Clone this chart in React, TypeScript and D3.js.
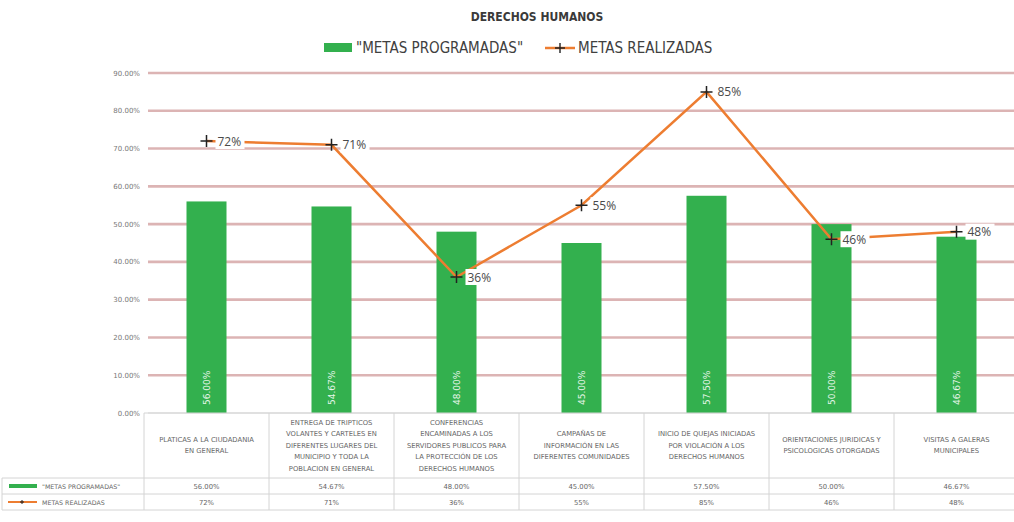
import React, { useEffect, useRef } from "react";
import * as d3 from "d3";

const categories = [
  ["PLATICAS A LA CIUDADANIA", "EN GENERAL"],
  ["ENTREGA DE TRIPTICOS", "VOLANTES Y CARTELES EN", "DIFERENTES LUGARES DEL", "MUNICIPIO Y TODA LA", "POBLACION EN GENERAL"],
  ["CONFERENCIAS", "ENCAMINADAS A LOS", "SERVIDORES PUBLICOS PARA", "LA PROTECCIÓN DE LOS", "DERECHOS HUMANOS"],
  ["CAMPAÑAS DE", "INFORMACIÓN EN LAS", "DIFERENTES COMUNIDADES"],
  ["INICIO DE QUEJAS INICIADAS", "POR VIOLACIÓN A LOS", "DERECHOS HUMANOS"],
  ["ORIENTACIONES JURIDICAS Y", "PSICOLOGICAS OTORGADAS"],
  ["VISITAS A GALERAS", "MUNICIPALES"],
];
const programadas = [56.0, 54.67, 48.0, 45.0, 57.5, 50.0, 46.67];
const realizadas = [72, 71, 36, 55, 85, 46, 48];
const yTicks = [0, 10, 20, 30, 40, 50, 60, 70, 80, 90];

const W = 1014;
const H = 522;
const condensed = "'Liberation Sans Narrow', 'DejaVu Sans Condensed', Arial, sans-serif";
const small = "'DejaVu Sans', Verdana, sans-serif";

const App = () => {
  const svgRef = useRef<SVGSVGElement>(null);

  useEffect(() => {
    const svg = d3.select(svgRef.current);
    svg.selectAll("*").remove();

    const idx = categories.map((_, i) => i);
    const x = d3.scaleBand<number>().domain(idx).range([144, 1019]);
    const y = d3.scaleLinear().domain([0, 90]).range([413, 73]);
    const barW = 40;

    svg.append("rect").attr("width", W).attr("height", H).attr("fill", "#fff");

    // title
    svg
      .append("text")
      .attr("x", 537)
      .attr("y", 21)
      .attr("text-anchor", "middle")
      .attr("font-family", condensed)
      .attr("font-weight", "bold")
      .attr("font-size", 12)
      .attr("fill", "#3a3a3a")
      .text("DERECHOS HUMANOS");

    // legend
    const lg = svg.append("g").attr("font-family", condensed).attr("font-size", 15).attr("fill", "#404040");
    lg.append("rect").attr("x", 324).attr("y", 43).attr("width", 28).attr("height", 9).attr("fill", "#33b04e");
    lg.append("text").attr("x", 356).attr("y", 53).text("\"METAS PROGRAMADAS\"");
    lg.append("line").attr("x1", 545).attr("x2", 575).attr("y1", 48).attr("y2", 48).attr("stroke", "#ed7d31").attr("stroke-width", 2.5);
    lg.append("path").attr("d", "M555,48h10M560,43v10").attr("stroke", "#222").attr("stroke-width", 1.4);
    lg.append("text").attr("x", 578).attr("y", 53).text("METAS REALIZADAS");

    // grid + y axis labels
    const grid = svg.append("g");
    grid
      .selectAll("line")
      .data(yTicks)
      .enter()
      .append("line")
      .attr("x1", 148)
      .attr("x2", W)
      .attr("y1", (d) => y(d))
      .attr("y2", (d) => y(d))
      .attr("stroke", (d) => (d === 0 ? "#d9d9d9" : "#dcb4b4"))
      .attr("stroke-width", (d) => (d === 0 ? 1 : 2.6));
    grid
      .selectAll("text")
      .data(yTicks)
      .enter()
      .append("text")
      .attr("x", 140)
      .attr("y", (d) => y(d) + 2.5)
      .attr("text-anchor", "end")
      .attr("font-family", small)
      .attr("font-size", 7)
      .attr("fill", "#777")
      .text((d) => d.toFixed(2) + "%");

    // bars
    svg
      .append("g")
      .selectAll("rect")
      .data(programadas)
      .enter()
      .append("rect")
      .attr("x", (_, i) => x(i)! + x.bandwidth() / 2 - barW / 2)
      .attr("y", (d) => y(d))
      .attr("width", barW)
      .attr("height", (d) => y(0) - y(d))
      .attr("fill", "#33b04e");

    svg
      .append("g")
      .selectAll("text")
      .data(programadas)
      .enter()
      .append("text")
      .attr("transform", (_, i) => `translate(${x(i)! + x.bandwidth() / 2 + 3},${y(0) - 8}) rotate(-90)`)
      .attr("font-family", small)
      .attr("font-size", 9)
      .attr("fill", "#e8f6ea")
      .text((d) => d.toFixed(2) + "%");

    // line
    const line = d3
      .line<number>()
      .x((_, i) => x(i)! + x.bandwidth() / 2)
      .y((d) => y(d));
    svg
      .append("path")
      .datum(realizadas)
      .attr("fill", "none")
      .attr("stroke", "#ed7d31")
      .attr("stroke-width", 2.5)
      .attr("d", line);

    const pts = svg
      .append("g")
      .selectAll("g")
      .data(realizadas)
      .enter()
      .append("g")
      .attr("transform", (d, i) => `translate(${x(i)! + x.bandwidth() / 2},${y(d)})`);
    pts.append("path").attr("d", "M-6,0h12M0,-6v12").attr("stroke", "#222").attr("stroke-width", 1.5);
    pts.append("rect").attr("x", 9).attr("y", -8).attr("width", 29).attr("height", 16).attr("fill", "#fff");
    pts
      .append("text")
      .attr("x", 11)
      .attr("y", 4.5)
      .attr("font-family", "'Open Sans', 'DejaVu Sans', sans-serif")
      .attr("font-size", 12)
      .attr("fill", "#4a4a4a")
      .text((d) => d + "%");

    // data table
    const tb = svg.append("g").attr("stroke", "#d4d4d4").attr("stroke-width", 1);
    const rowTop = 413;
    const row1 = 478;
    const row2 = 494;
    const row3 = 510;
    tb.append("line").attr("x1", 144).attr("x2", W).attr("y1", rowTop).attr("y2", rowTop);
    tb.append("line").attr("x1", 2).attr("x2", W).attr("y1", row1).attr("y2", row1);
    tb.append("line").attr("x1", 2).attr("x2", W).attr("y1", row2).attr("y2", row2);
    tb.append("line").attr("x1", 2).attr("x2", W).attr("y1", row3).attr("y2", row3);
    tb.append("line").attr("x1", 2).attr("x2", 2).attr("y1", row1).attr("y2", row3);
    tb.selectAll(".vl")
      .data([...idx, idx.length])
      .enter()
      .append("line")
      .attr("x1", (d) => 144 + d * x.step())
      .attr("x2", (d) => 144 + d * x.step())
      .attr("y1", rowTop)
      .attr("y2", row3);

    const catG = svg
      .append("g")
      .attr("font-family", small)
      .attr("font-size", 6.8)
      .attr("fill", "#666")
      .attr("text-anchor", "middle");
    categories.forEach((lines, i) => {
      const cx = x(i)! + x.bandwidth() / 2;
      const lh = 11.5;
      const startY = (rowTop + row1) / 2 - ((lines.length - 1) * lh) / 2 + 2;
      lines.forEach((t, j) => {
        catG.append("text").attr("x", cx).attr("y", startY + j * lh).text(t);
      });
      catG.append("text").attr("x", cx).attr("y", (row1 + row2) / 2 + 2.5).text(programadas[i].toFixed(2) + "%");
      catG.append("text").attr("x", cx).attr("y", (row2 + row3) / 2 + 2.5).text(realizadas[i] + "%");
    });

    // table legend keys
    const tk = svg.append("g").attr("font-family", small).attr("font-size", 6.3).attr("fill", "#666");
    tk.append("rect").attr("x", 9).attr("y", (row1 + row2) / 2 - 2).attr("width", 28).attr("height", 4).attr("fill", "#33b04e");
    tk.append("text").attr("x", 42).attr("y", (row1 + row2) / 2 + 2.5).text("\"METAS PROGRAMADAS\"");
    const ly = (row2 + row3) / 2;
    tk.append("line").attr("x1", 8).attr("x2", 37).attr("y1", ly).attr("y2", ly).attr("stroke", "#ed7d31").attr("stroke-width", 2);
    tk.append("path").attr("d", `M20,${ly}h4M22,${ly - 2}v4`).attr("stroke", "#222").attr("stroke-width", 1);
    tk.append("text").attr("x", 42).attr("y", ly + 2.5).text("METAS REALIZADAS");
  }, []);

  return (
    <svg
      ref={svgRef}
      width={W}
      height={H}
      style={{ position: "absolute", left: 0, top: 0, display: "block" }}
    />
  );
};

export default App;
